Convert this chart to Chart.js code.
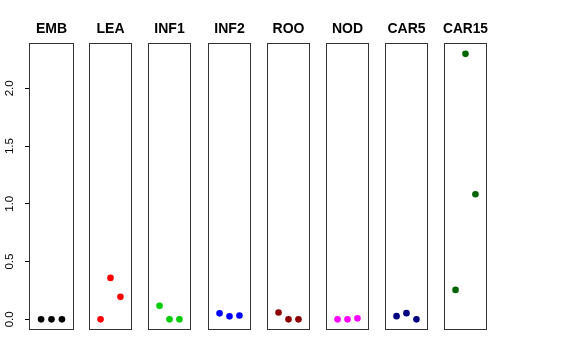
<!DOCTYPE html>
<html>
<head>
    <title>Expression by tissue</title>
    <style>
        html, body { margin: 0; padding: 0; background: #ffffff; }
        #wrap { position: relative; width: 576px; height: 360px; overflow: hidden; background: #ffffff; }
        #wrap canvas { position: absolute; top: 0; }
    </style>
</head>
<body>
    <div id="wrap"></div>

    <script src="https://cdn.jsdelivr.net/npm/chart.js"></script>
    <script>
        // Panel titles and colours
        const tissues = ['EMB', 'LEA', 'INF1', 'INF2', 'ROO', 'NOD', 'CAR5', 'CAR15'];
        const colors = ['#000000', '#FF0000', '#00CD00', '#0000FF', '#8B0000', '#FF00FF', '#000080', '#006400'];

        // x position of each replicate inside a panel
        const replicates = [1, 2, 3];

        // values, one array per panel
        const embValues = [0, 0, 0];
        const leaValues = [0, 0.359, 0.195];
        const inf1Values = [0.117, 0, 0];
        const inf2Values = [0.052, 0.026, 0.034];
        const rooValues = [0.060, 0, 0];
        const nodValues = [0, 0, 0.009];
        const car5Values = [0.028, 0.054, 0];
        const car15Values = [0.255, 2.298, 1.083];

        const yTicks = [0, 0.5, 1.0, 1.5, 2.0];

        const allValues = [embValues, leaValues, inf1Values, inf2Values, rooValues, nodValues, car5Values, car15Values];

        // R style axis limits (range extended by 4%)
        const yMin = -0.092, yMax = 2.392;
        const xMin = -0.16, xMax = 4.16;

        // draws the box around each panel
        const boxPlugin = {
            id: 'box',
            afterDraw(chart) {
                const a = chart.chartArea;
                const ctx = chart.ctx;
                ctx.save();
                ctx.strokeStyle = '#333333';
                ctx.lineWidth = 1;
                ctx.strokeRect(Math.round(a.left) + 0.5, Math.round(a.top) + 0.5,
                    Math.round(a.right - a.left) - 1, Math.round(a.bottom - a.top) - 1);
                ctx.restore();
            }
        };

        // rotated y tick labels like R's axis()
        const yLabelPlugin = {
            id: 'yLabels',
            afterDraw(chart) {
                const scale = chart.scales.y;
                if (!scale.options.display) return;
                const ctx = chart.ctx;
                ctx.save();
                ctx.fillStyle = '#000000';
                ctx.font = '11.5px "Liberation Sans", Arial, sans-serif';
                ctx.textAlign = 'center';
                ctx.textBaseline = 'middle';
                yTicks.forEach(v => {
                    const y = scale.getPixelForValue(v);
                    ctx.save();
                    ctx.translate(10, y);
                    ctx.rotate(-Math.PI / 2);
                    ctx.fillText(v.toFixed(1), 0, 0);
                    ctx.restore();
                });
                ctx.restore();
            }
        };

        const wrap = document.getElementById('wrap');
        const boxWidth = 45;
        const pad = 3;
        const axisWidth = 29;

        tissues.forEach((name, i) => {
            const first = i === 0;
            const boxLeft = 29 + Math.round(i * 59.2);
            const canvas = document.createElement('canvas');
            // first canvas is symmetric (empty right axis) so the title stays centred over the box
            const left = first ? 0 : boxLeft - pad;
            const width = first ? axisWidth * 2 + boxWidth : boxWidth + 2 * pad;
            canvas.width = width;
            canvas.height = 331 + pad;
            canvas.style.left = left + 'px';
            canvas.style.width = width + 'px';
            canvas.style.height = (331 + pad) + 'px';
            wrap.appendChild(canvas);

            const scales = {
                x: { type: 'linear', min: xMin, max: xMax, display: false },
                y: {
                    type: 'linear',
                    min: yMin,
                    max: yMax,
                    display: first,
                    border: { display: false },
                    grid: { drawOnChartArea: false, drawTicks: true, tickLength: 4, color: '#000000' },
                    ticks: { display: false },
                    afterBuildTicks: scale => { scale.ticks = yTicks.map(v => ({ value: v })); }
                }
            };
            if (first) {
                scales.y.afterFit = scale => { scale.width = axisWidth; };
                scales.spacer = {
                    type: 'linear',
                    position: 'right',
                    min: yMin,
                    max: yMax,
                    border: { display: false },
                    grid: { display: false },
                    ticks: { display: false },
                    afterFit: scale => { scale.width = axisWidth; }
                };
            }

            new Chart(canvas.getContext('2d'), {
                type: 'scatter',
                data: {
                    datasets: [{
                        data: replicates.map((x, k) => ({ x: x, y: allValues[i][k] })),
                        backgroundColor: colors[i],
                        borderColor: colors[i],
                        pointRadius: 3.3,
                        pointBorderWidth: 0,
                        clip: false
                    }]
                },
                options: {
                    responsive: false,
                    animation: false,
                    devicePixelRatio: 1,
                    layout: { padding: { left: first ? 0 : pad, right: first ? 0 : pad, top: 0, bottom: pad } },
                    plugins: {
                        legend: { display: false },
                        tooltip: { enabled: false },
                        title: {
                            display: true,
                            text: name,
                            color: '#000000',
                            font: { family: '"Liberation Sans", Arial, sans-serif', size: 14, weight: 'bold', lineHeight: 1 },
                            padding: { top: 22, bottom: 7 }
                        }
                    },
                    scales: scales
                },
                plugins: [boxPlugin, yLabelPlugin]
            });
        });
    </script>
</body>
</html>
